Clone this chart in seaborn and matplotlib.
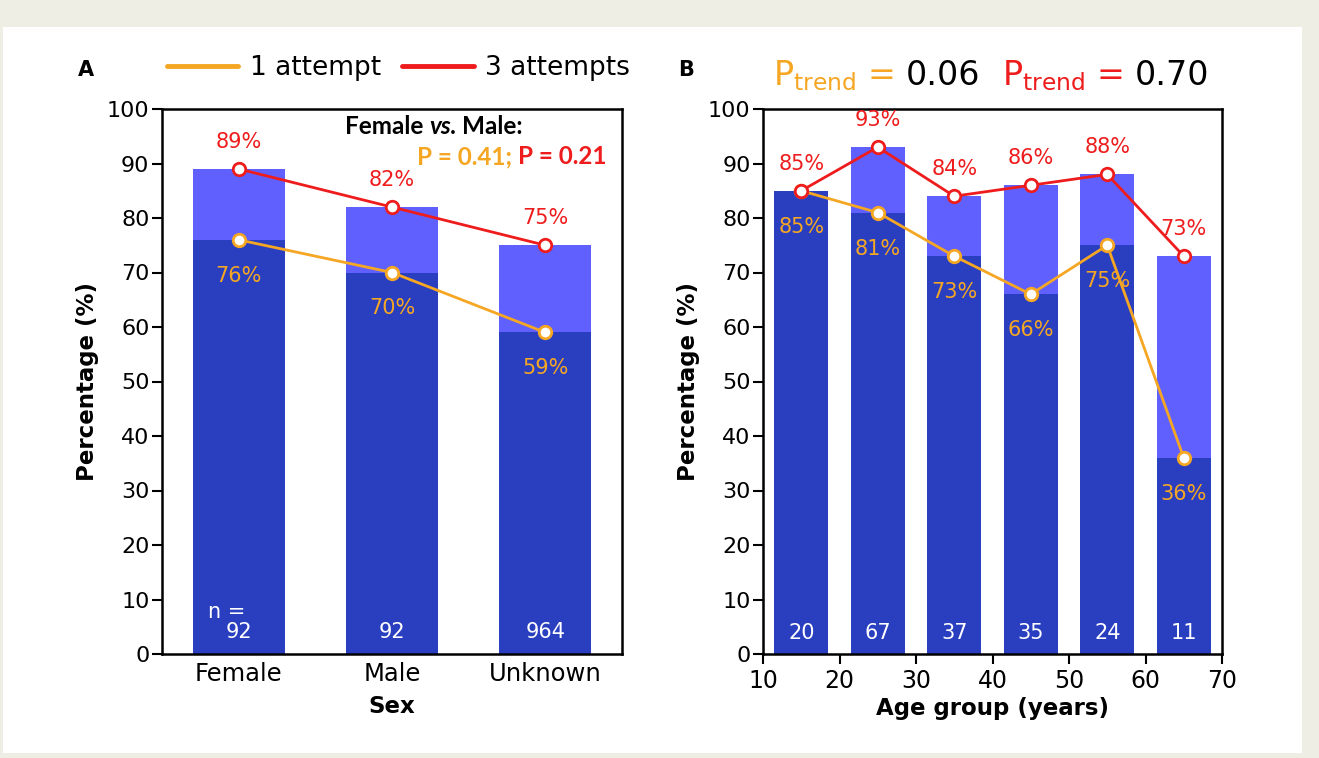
import numpy as np
import matplotlib
matplotlib.use("Agg")
import matplotlib.pyplot as plt
import seaborn as sns
from matplotlib.lines import Line2D
from matplotlib.patches import Rectangle

# ---------------- data ----------------
sex_cats = ["Female", "Male", "Unknown"]
sex_one = [76, 70, 59]
sex_three = [89, 82, 75]
sex_n = ["92", "92", "964"]

age_mid = [15, 25, 35, 45, 55, 65]
age_one = [85, 81, 73, 66, 75, 36]
age_three = [85, 93, 84, 86, 88, 73]
age_n = ["20", "67", "37", "35", "24", "11"]
age_ticks = [10, 20, 30, 40, 50, 60, 70]

p_trend_one = "0.06"
p_trend_three = "0.70"
p_sex_one = "0.41"
p_sex_three = "0.21"

# ---------------- style ----------------
DARK = "#2a3fc0"
LIGHT = "#6060ff"
ORANGE = "#f5a623"
RED = "#ee1c1c"

sns.set_theme(style="ticks")
plt.rcParams['font.family'] = ['DejaVu Sans']
plt.rcParams['mathtext.fontset'] = 'dejavusans'
for k in ["text.color", "axes.labelcolor", "xtick.color", "ytick.color",
          "axes.edgecolor"]:
    plt.rcParams[k] = "black"

W, H = 1319, 758
fig = plt.figure(figsize=(W / 100, H / 100), dpi=100)
fig.patch.set_facecolor("#efeee4")
fig.add_artist(Rectangle((3 / W, 1 - 753 / H), (1302 - 3) / W, (753 - 27) / H,
                         transform=fig.transFigure, facecolor="white",
                         edgecolor="none", zorder=-5))

def fx(px):
    return px / W

def fy(py):
    return 1 - py / H

axA = fig.add_axes([fx(162), fy(654), 460 / W, 545 / H])
axB = fig.add_axes([fx(763), fy(654), 459 / W, 545 / H])

line_kw = dict(marker="o", markersize=9, markerfacecolor="white",
               markeredgewidth=2, linewidth=2, zorder=5)

# ---------------- panel A ----------------
sns.barplot(x=sex_cats, y=sex_three, color=LIGHT, saturation=1, width=0.6,
            linewidth=0, ax=axA)
sns.barplot(x=sex_cats, y=sex_one, color=DARK, saturation=1, width=0.6,
            linewidth=0, ax=axA)
xa = np.arange(len(sex_cats))
sns.lineplot(x=xa, y=sex_one, color=ORANGE, markeredgecolor=ORANGE, ax=axA, **line_kw)
sns.lineplot(x=xa, y=sex_three, color=RED, markeredgecolor=RED, ax=axA, **line_kw)
for i in range(len(sex_cats)):
    axA.text(i, sex_three[i] + 5, f"{sex_three[i]}%", ha="center", va="center",
             color=RED, fontsize=15, zorder=6)
    axA.text(i, sex_one[i] - 6.6, f"{sex_one[i]}%", ha="center", va="center",
             color=ORANGE, fontsize=15, zorder=6)
    axA.text(i, 4, sex_n[i], ha="center", va="center", color="white",
             fontsize=15, zorder=6)
axA.text(-0.08, 7.7, "n =", ha="center", va="center", color="white",
         fontsize=15, zorder=6)

axA.set_xlim(-0.5, 2.5)
axA.set_ylim(0, 100)
axA.set_yticks(range(0, 101, 10))
axA.set_xticks(xa)
axA.set_xticklabels(sex_cats)
axA.set_xlabel("Sex", fontsize=16.5, fontweight="bold", labelpad=6)
axA.set_ylabel("Percentage (%)", fontsize=16.5, fontweight="bold", labelpad=6)
axA.tick_params(axis="y", length=7, width=1.5, labelsize=16, pad=2)
axA.tick_params(axis="x", length=0, labelsize=17.5, pad=6)

# ---------------- panel B ----------------
sns.barplot(x=age_mid, y=age_three, color=LIGHT, saturation=1, width=0.7,
            native_scale=True, linewidth=0, ax=axB)
sns.barplot(x=age_mid, y=age_one, color=DARK, saturation=1, width=0.7,
            native_scale=True, linewidth=0, ax=axB)
sns.lineplot(x=age_mid, y=age_one, color=ORANGE, markeredgecolor=ORANGE, ax=axB, **line_kw)
sns.lineplot(x=age_mid, y=age_three, color=RED, markeredgecolor=RED, ax=axB, **line_kw)
for i, x in enumerate(age_mid):
    axB.text(x, age_three[i] + 5, f"{age_three[i]}%", ha="center", va="center",
             color=RED, fontsize=15, zorder=6)
    axB.text(x, age_one[i] - 6.6, f"{age_one[i]}%", ha="center", va="center",
             color=ORANGE, fontsize=15, zorder=6)
    axB.text(x, 3.8, age_n[i], ha="center", va="center", color="white",
             fontsize=15, zorder=6)
axB.set_xlim(10, 70)
axB.set_ylim(0, 100)
axB.set_xticks(age_ticks)
axB.set_xticklabels([str(t) for t in age_ticks])
axB.set_yticks(range(0, 101, 10))
axB.set_xlabel("Age group (years)", fontsize=16.5, fontweight="bold", labelpad=3)
axB.set_ylabel("Percentage (%)", fontsize=16.5, fontweight="bold", labelpad=6)
axB.tick_params(axis="y", length=7, width=1.5, labelsize=16, pad=2)
axB.tick_params(axis="x", length=7, width=1.5, labelsize=17, pad=4)

for ax in (axA, axB):
    ax.set_facecolor("white")
    for s in ax.spines.values():
        s.set_visible(True)
        s.set_linewidth(1.8)
        s.set_color("black")

# ---------------- figure annotations ----------------
fig.text(fx(78), fy(70), "A", fontsize=15, fontweight="bold", va="center", ha="left")
fig.text(fx(678), fy(70), "B", fontsize=15, fontweight="bold", va="center", ha="left")

handles = [Line2D([], [], color=ORANGE, lw=3.5), Line2D([], [], color=RED, lw=3.5)]
fig.legend(handles=handles, labels=["1 attempt", "3 attempts"], loc="center left",
           bbox_to_anchor=(fx(167), fy(68)), ncol=2, frameon=False, fontsize=19,
           handlelength=2.7, handletextpad=0.45, columnspacing=0.8,
           borderaxespad=0, borderpad=0)

# P trend header
FS_T = 24
t1 = fig.text(fx(773), fy(85), r"$\mathregular{P_{trend}}$ =", color=ORANGE,
              fontsize=FS_T, va="baseline", ha="left")
t2 = axB.annotate(p_trend_one, xy=(1, fy(85)), xycoords=(t1, "figure fraction"),
                  xytext=(8, 0), textcoords="offset points", color="black",
                  fontsize=FS_T, va="baseline", ha="left", annotation_clip=False)
t3 = axB.annotate(r"$\mathregular{P_{trend}}$ =", xy=(1, fy(85)),
                  xycoords=(t2, "figure fraction"), xytext=(16, 0),
                  textcoords="offset points", color=RED, fontsize=FS_T,
                  va="baseline", ha="left", annotation_clip=False)
axB.annotate(p_trend_three, xy=(1, fy(85)), xycoords=(t3, "figure fraction"),
             xytext=(8, 0), textcoords="offset points", color="black",
             fontsize=FS_T, va="baseline", ha="left", annotation_clip=False)

# Female vs Male
fam = "Lato"
FS_S = 17.5
s1 = fig.text(fx(345), fy(134), "Female", fontsize=FS_S, fontweight="bold",
              family=fam, va="baseline", ha="left")
s2 = axA.annotate("vs.", xy=(1, fy(134)), xycoords=(s1, "figure fraction"),
                  xytext=(4, 0), textcoords="offset points", fontsize=FS_S,
                  fontweight="bold", fontstyle="italic", family=fam,
                  va="baseline", ha="left", annotation_clip=False)
axA.annotate("Male:", xy=(1, fy(134)), xycoords=(s2, "figure fraction"),
             xytext=(4, 0), textcoords="offset points", fontsize=FS_S,
             fontweight="bold", family=fam, va="baseline", ha="left",
             annotation_clip=False)
p1 = fig.text(fx(417), fy(164), f"P = {p_sex_one};", fontsize=FS_S, fontweight="bold",
              family=fam, color=ORANGE, va="baseline", ha="left")
axA.annotate(f"P = {p_sex_three}", xy=(1, fy(164)), xycoords=(p1, "figure fraction"),
             xytext=(4, 0), textcoords="offset points", fontsize=FS_S,
             fontweight="bold", family=fam, color=RED, va="baseline", ha="left",
             annotation_clip=False)

fig.savefig("out.png", dpi=100, facecolor=fig.get_facecolor())
